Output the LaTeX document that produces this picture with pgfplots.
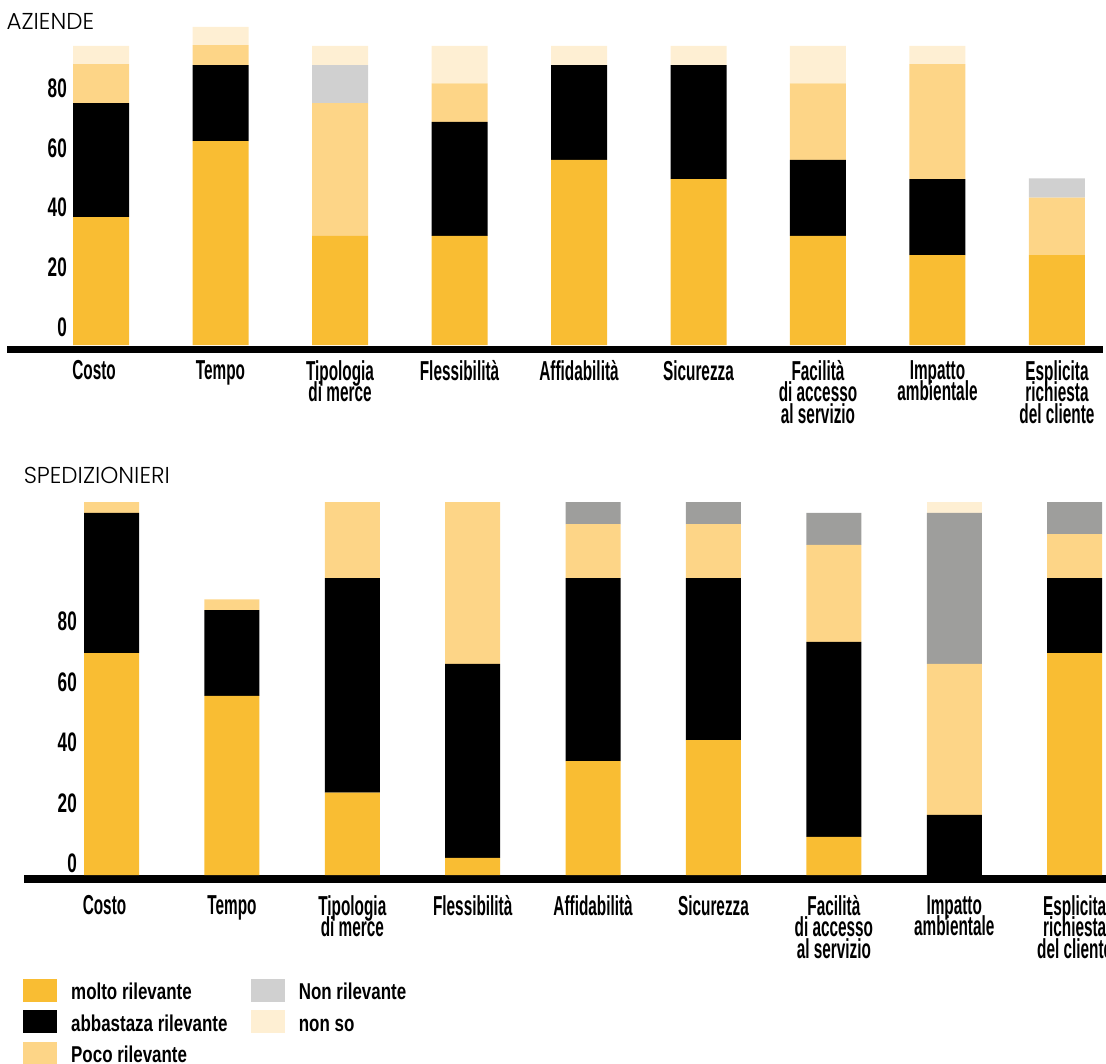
\documentclass[border=0pt]{standalone}
\usepackage{pgfplots}
\pgfplotsset{compat=1.18}
\usepackage{pgfplotstable}
\usepackage{fontspec}
\setmainfont{Liberation Sans}
\newfontfamily\labfont[FakeStretch=0.56]{Liberation Sans}
\newfontfamily\tickfont[FakeStretch=0.64]{Liberation Sans}
\newfontfamily\legfont[FakeStretch=0.74]{Liberation Sans}
\newfontfamily\titlefont{Poppins Light}
\definecolor{cMolto}{HTML}{F9BD33}
\definecolor{cPoco}{HTML}{FDD587}
\definecolor{cNonSo}{HTML}{FEEFD3}
\definecolor{cNonRilA}{HTML}{D0D0D0}
\definecolor{cNonRilB}{HTML}{9E9E9C}

\pgfplotstableread{
x molto abb poco nonril nonso
0 42.8 38.1 13.0 0 6.1
1 68.2 25.4 6.7 0 6.1
2 36.5 0 44.4 12.7 6.4
3 36.5 38.1 12.9 0 12.5
4 61.9 31.7 0 0 6.4
5 55.5 38.1 0 0 6.4
6 36.5 25.4 25.6 0 12.5
7 30.1 25.4 38.4 0 6.1
8 30.1 0 19.2 6.4 0
}\aziende

\pgfplotstableread{
x molto abb poco nonril nonso
0 73.5 46.4 3.6 0 0
1 59.3 28.4 3.6 0 0
2 27.3 71.0 25.2 0 0
3 5.7 64.2 53.6 0 0
4 37.7 60.6 17.9 7.3 0
5 44.7 53.6 17.9 7.3 0
6 12.6 64.6 32.1 10.6 0
7 0 19.9 50.0 50.0 3.6
8 73.5 24.8 14.6 10.6 0
}\spedizionieri

\pgfplotsset{
  panel/.style={
    scale only axis,
    ybar stacked,
    enlargelimits=false,
    clip=false,
    axis x line*=bottom,
    axis y line*=left,
    y axis line style={draw=none},
    x axis line style={line width=7.5pt,-},
    major tick length=0pt,
    tick style={draw=none},
    xtick={0,1,2,3,4,5,6,7,8},
    xticklabels={{\hspace*{-14pt}Costo},Tempo,{Tipologia\\di merce},Flessibilità,Affidabilità,Sicurezza,{Facilità\\di accesso\\al servizio},{Impatto\\ambientale},{Esplicita\\richiesta\\del cliente}},
    xticklabel style={align=center, anchor=north, inner sep=0pt,
      font={\labfont\bfseries\fontsize{27.4}{21.5}\selectfont\lineskiplimit=-100pt\lineskip=0pt}},
    ytick={0,20,40,60,80},
    yticklabels={0,20,40,60,80},
    /pgf/number format/assume math mode=true,
  },
}

\begin{document}
\begin{tikzpicture}
\useasboundingbox (0pt,0pt) rectangle (1106pt,-1064pt);

\node[anchor=base west, inner sep=0pt] at (6.4pt,-30pt) {\titlefont\fontsize{23}{26}\selectfont AZIENDE};
\node[anchor=base west, inner sep=0pt] at (23.6pt,-483.3pt) {\titlefont\fontsize{23}{26}\selectfont SPEDIZIONIERI};

% ---------- AZIENDE ----------
\begin{axis}[panel,
  at={(7pt,-349.5pt)}, anchor=south west,
  width=1096pt, height=333.4pt,
  xmin=-0.787, xmax=8.385, ymin=-1.5, ymax=110,
  bar width=56pt,
  xticklabel style={yshift=-10.5pt},
  yticklabel style={anchor=base east, inner sep=0pt, xshift=60pt, yshift=8.5pt,
    font={\tickfont\bfseries\fontsize{26.8}{28}\selectfont}},
]
\addplot[fill=cMolto, draw=none] table[x=x,y=molto]{\aziende};
\addplot[fill=black, draw=none] table[x=x,y=abb]{\aziende};
\addplot[fill=cPoco, draw=none] table[x=x,y=poco]{\aziende};
\addplot[fill=cNonRilA, draw=none] table[x=x,y=nonril]{\aziende};
\addplot[fill=cNonSo, draw=none] table[x=x,y=nonso]{\aziende};
\end{axis}

% ---------- SPEDIZIONIERI ----------
\begin{axis}[panel,
  at={(24pt,-879pt)}, anchor=south west,
  width=1082pt, height=384.5pt,
  xmin=-0.727, xmax=8.26, ymin=-1.32, ymax=126,
  bar width=55pt,
  xticklabel style={yshift=-16pt},
  yticklabel style={anchor=base east, inner sep=0pt, xshift=53pt, yshift=2.5pt,
    font={\tickfont\bfseries\fontsize{26.8}{28}\selectfont}},
  legend columns=2,
  legend image code/.code={\fill[#1] (0pt,-2.4pt) rectangle (34pt,21pt);},
  legend style={at={(axis description cs:-0.0012,-0.2583)}, anchor=north west,
    draw=none, fill=none, inner sep=0pt, row sep=7pt,
    font={\legfont\bfseries\fontsize{22.9}{24}\selectfont},
    cells={anchor=base west, inner sep=0pt},
    /tikz/every odd column/.append style={column sep=12.3pt},
    /tikz/every even column/.append style={column sep=21pt}},
]
\addplot[fill=cMolto, draw=none, forget plot] table[x=x,y=molto]{\spedizionieri};
\addplot[fill=black, draw=none, forget plot] table[x=x,y=abb]{\spedizionieri};
\addplot[fill=cPoco, draw=none, forget plot] table[x=x,y=poco]{\spedizionieri};
\addplot[fill=cNonRilB, draw=none, forget plot] table[x=x,y=nonril]{\spedizionieri};
\addplot[fill=cNonSo, draw=none, forget plot] table[x=x,y=nonso]{\spedizionieri};
\addlegendimage{fill=cMolto, draw=none}
\addlegendentry{molto rilevante}
\addlegendimage{fill=cNonRilA, draw=none}
\addlegendentry{Non rilevante}
\addlegendimage{fill=black, draw=none}
\addlegendentry{abbastaza rilevante}
\addlegendimage{fill=cNonSo, draw=none}
\addlegendentry{non so}
\addlegendimage{fill=cPoco, draw=none}
\addlegendentry{Poco rilevante}
\end{axis}
\end{tikzpicture}
\end{document}
